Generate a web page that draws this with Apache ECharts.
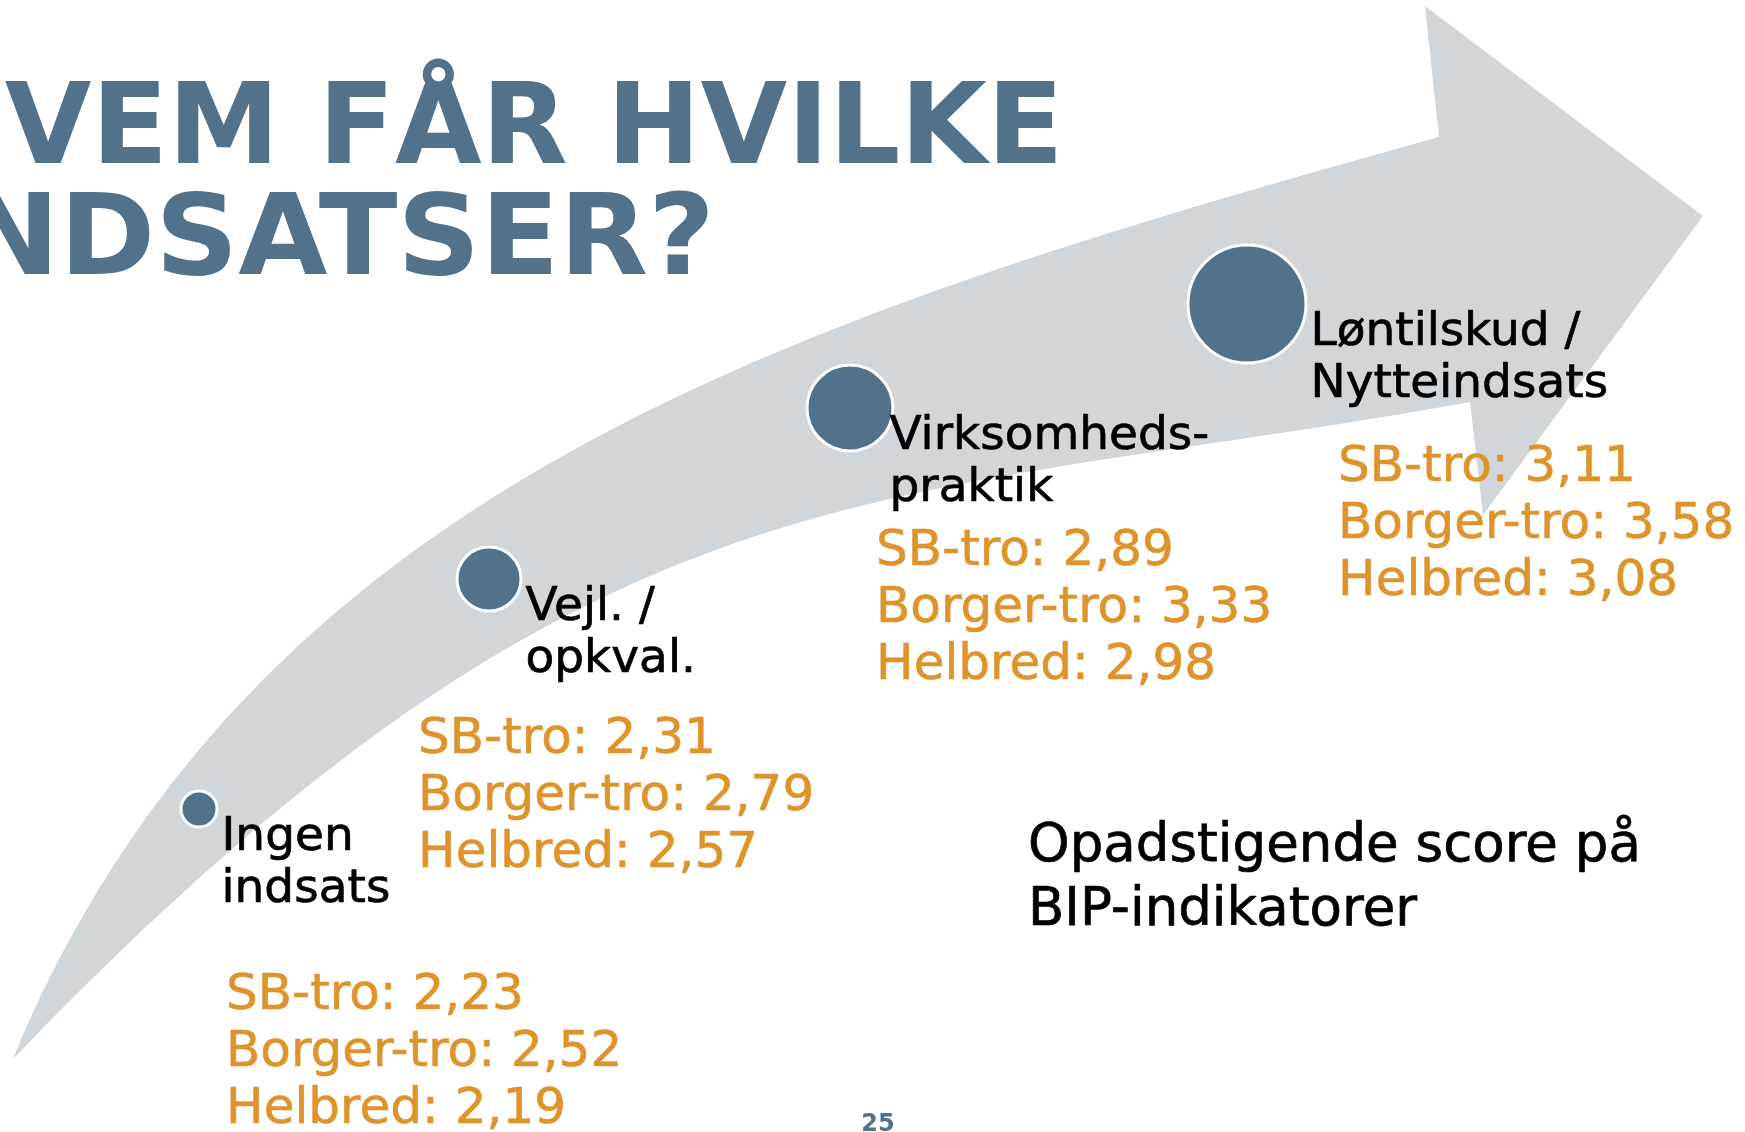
<!DOCTYPE html>
<html>
<head>
<meta charset="utf-8">
<script src="https://cdn.jsdelivr.net/npm/echarts@6/dist/echarts.min.js"></script>
<style>
  html, body { margin: 0; padding: 0; background: #fff; }
  #chart { width: 1745px; height: 1132px; }
</style>
</head>
<body>
<div id="chart"></div>
<script>
// stages of the effort and their scores on the BIP indicators
const stages = ['Ingen\nindsats', 'Vejl. /\nopkval.', 'Virksomheds-\npraktik', 'Løntilskud /\nNytteindsats'];
const sbTro = [2.23, 2.31, 2.89, 3.11];
const borgerTro = [2.52, 2.79, 3.33, 3.58];
const helbred = [2.19, 2.57, 2.98, 3.08];

// where each stage sits along the arrow (slide units) and the bubble radius
const stageX = [199, 489, 850, 1247];
const stageY = [809, 579, 408, 304];
const bubbleR = [19, 33, 44, 60];

// layout: label nudges and top-left of each score block
const nameShift = [0, 0, -8, 0];
const scoreX = [226, 418, 876, 1338];
const scoreY = [968, 712, 524, 440];

// arrow outline (slide units): outer bezier, head, inner bezier
const arrowOuter = [[13, 1059], [250, 490], [780, 320], [1439, 137]];
const arrowHead = [[1425, 6], [1703, 216], [1483, 515], [1470, 402]];
const arrowInner = [[870, 510], [600, 450], [13, 1059]];

const BLUE = '#51728A';
const ORANGE = '#DF932B';
const FONT = '"DejaVu Sans", Verdana, sans-serif';

const fmt = v => v.toFixed(2).replace('.', ',');

const chart = echarts.init(document.getElementById('chart'));

const option = {
  animation: false,
  backgroundColor: '#fff',
  grid: {left: 0, right: 0, top: 0, bottom: 0},
  xAxis: {type: 'value', min: 0, max: 1745, show: false},
  yAxis: {type: 'value', min: 0, max: 1132, inverse: true, show: false},
  graphic: [
    {
      type: 'text', x: -89, y: 134, z: 10,
      style: {text: 'HVEM FÅR HVILKE', fill: BLUE, font: 'bold 112px ' + FONT, verticalAlign: 'middle'}
    },
    {
      type: 'text', x: -80, y: 245, scaleX: 1.03, z: 10,
      style: {text: 'INDSATSER?', fill: BLUE, font: 'bold 112px ' + FONT, verticalAlign: 'middle'}
    },
    {
      type: 'text', x: 1028, y: 815, z: 10,
      style: {
        text: 'Opadstigende score på\nBIP-indikatorer', fill: '#000', font: '53px ' + FONT, lineHeight: 64,
        stroke: '#000', lineWidth: 0.7
      }
    },
    {
      type: 'text', x: 878, y: 1125, z: 10,
      style: {text: '25', fill: BLUE, font: 'bold 24px ' + FONT, align: 'center', verticalAlign: 'middle'}
    }
  ],
  series: [
    {
      type: 'custom',
      name: 'arrow',
      silent: true,
      z: 1,
      data: [[0, 0]],
      renderItem: (params, api) => {
        const p = pt => api.coord(pt).map(v => v.toFixed(1)).join(' ');
        let d = 'M' + p(arrowOuter[0]) + ' C' + arrowOuter.slice(1).map(p).join(' ');
        d += arrowHead.map(q => ' L' + p(q)).join('');
        d += ' C' + arrowInner.map(p).join(' ') + ' Z';
        return {type: 'path', shape: {pathData: d}, style: {fill: '#D1D6DB'}};
      }
    },
    {
      type: 'scatter',
      name: 'stages',
      z: 3,
      silent: true,
      data: stageX.map((x, i) => ({value: [x, stageY[i]], label: {offset: [nameShift[i], 3]}})),
      symbolSize: (val, p) => bubbleR[p.dataIndex] * 2 - 2,
      itemStyle: {color: BLUE, borderColor: '#fff', borderWidth: 3, opacity: 1},
      label: {
        show: true,
        position: 'right',
        distance: 3,
        align: 'left',
        verticalAlign: 'top',
        formatter: p => stages[p.dataIndex],
        color: '#000',
        textBorderColor: '#000',
        textBorderWidth: 0.7,
        fontFamily: FONT,
        fontSize: 47,
        lineHeight: 52
      }
    },
    {
      type: 'scatter',
      name: 'scores',
      z: 3,
      silent: true,
      data: scoreX.map((x, i) => [x, scoreY[i]]),
      symbolSize: 0.1,
      itemStyle: {color: 'rgba(0,0,0,0)', opacity: 1},
      label: {
        show: true,
        position: 'right',
        distance: 0,
        align: 'left',
        verticalAlign: 'top',
        formatter: p => {
          const i = p.dataIndex;
          return 'SB-tro: ' + fmt(sbTro[i]) + '\nBorger-tro: ' + fmt(borgerTro[i]) + '\nHelbred: ' + fmt(helbred[i]);
        },
        color: ORANGE,
        textBorderColor: ORANGE,
        textBorderWidth: 0.6,
        fontFamily: FONT,
        fontSize: 50,
        lineHeight: 57
      }
    }
  ]
};

chart.setOption(option);
</script>
</body>
</html>
